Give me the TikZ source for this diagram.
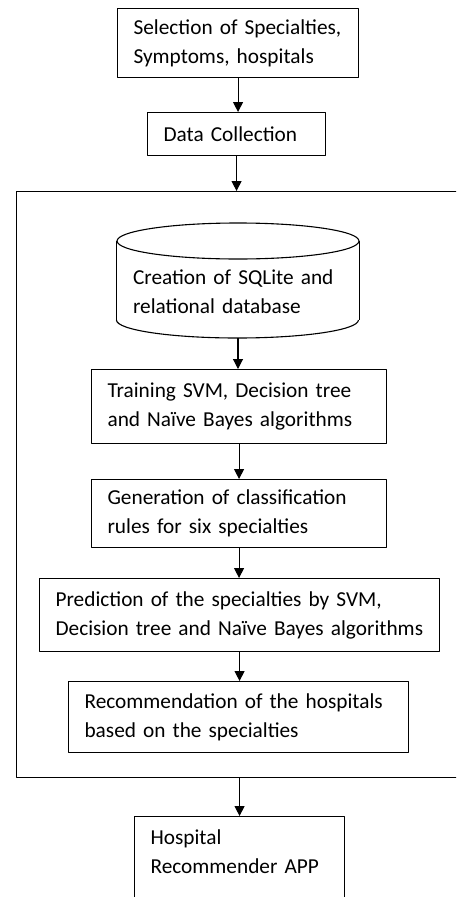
\documentclass[tikz,border=0pt]{standalone}
\usepackage{fontspec}
\setmainfont{Carlito}
\usetikzlibrary{arrows.meta}
\tikzset{
  stepbox/.style={draw, rectangle, inner xsep=16pt, inner ysep=0pt,
    align=left, anchor=north west},
}
\begin{document}
\begin{tikzpicture}[x=1pt, y=-1pt, line width=1.1pt, line join=round,
        font=\fontsize{21.3}{29}\selectfont, >={Triangle[width=10pt,length=10pt]}]
        \clip (0,0) rectangle (456,897);
        
        % outer frame, runs past the right edge
        \node[draw, minimum width=470pt, minimum height=586pt, anchor=north west] 
        (frame) at (16,191) {};
        \node[stepbox, text width=209pt, minimum height=69pt] (sel) at (117,8) 
        {Selection of Specialties,\\Symptoms, hospitals};
        \node[stepbox, text width=146pt, minimum height=43pt] (data) at (147,112) 
        {Data Collection};
        % database drum
        \node[minimum width=242pt, minimum height=92pt, inner xsep=16pt, 
        text width=210pt, align=left, anchor=south] (db) at (238,338) 
        {Creation of SQLite and\\relational database};
        \draw (db.south west) ++(0,-18) -- ++(0,-79) (db.south east) ++(0,-18) -- ++(0,-79);
        \draw (db.south west) ++(0,-18) arc[start angle=180, end angle=0, 
        x radius=121, y radius=18];
        \draw (db.south) ++(0,-97) ellipse[x radius=121, y radius=18];
        \node[stepbox, text width=263pt, minimum height=74pt] (train) at (91,369) 
        {Training SVM, Decision tree\\and Na\"{\i}ve Bayes algorithms};
        \node[stepbox, text width=263pt, minimum height=68pt] (rules) at (91,479) 
        {Generation of classification\\rules for six specialties};
        \node[stepbox, text width=368pt, minimum height=73pt] (pred) at (39,578) 
        {Prediction of the specialties by SVM,\\Decision tree and Na\"{\i}ve Bayes algorithms};
        \node[stepbox, text width=308pt, minimum height=71pt] (rec) at (68,681) 
        {Recommendation of the hospitals\\based on the specialties};
        \node[stepbox, text width=178pt, inner ysep=13pt, text depth=70pt] (app) 
        at (134,816) {Hospital\\Recommender APP};
        
        \draw[->] (sel.south) -- (sel.south |- data.north);
        \draw[->] (data.south) -- (data.south |- frame.north);
        \draw[->] (db.south) -- (db.south |- train.north);
        \draw[->] (train.south) -- (train.south |- rules.north);
        \draw[->] (rules.south) -- (rules.south |- pred.north);
        \draw[->] (pred.south) -- (pred.south |- rec.north);
        \draw[->] (app.north |- frame.south) -- (app.north);
    \end{tikzpicture}
\end{document}
